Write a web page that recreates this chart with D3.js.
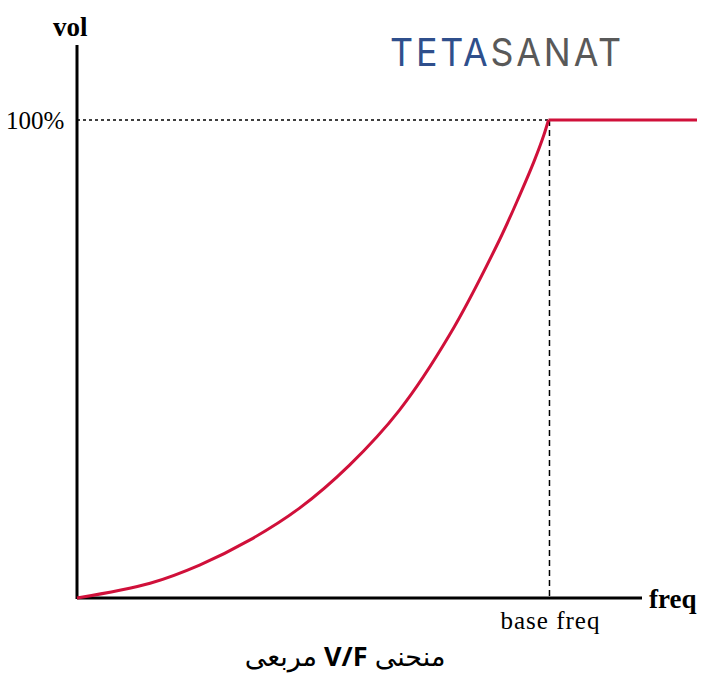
<!DOCTYPE html>
<html><head><meta charset="utf-8">
<script src="https://cdn.jsdelivr.net/npm/d3@7"></script>
<style>body{margin:0;background:#fff}</style></head>
<body><svg id="c" width="713" height="691"></svg>
<script>
const freq = [0, 15.5, 26, 36.6, 47.2, 57.8, 68.4, 79, 89.6, 94, 97, 99, 100];
const volt = [0, 3.1, 6.9, 12.1, 18.8, 27.8, 39.3, 55.0, 74.9, 84.5, 91.5, 96.8, 100];
const flatFreq = [100, 131.5];
const flatVolt = [100, 100];
const baseFreq = 100;
const yTickLabels = ["100%"];
const svg = d3.select("#c");
const x = d3.scaleLinear().domain([0, 131.5]).range([77, 697]);
const y = d3.scaleLinear().domain([0, 100]).range([598, 120]);
const serif = "'Liberation Serif','DejaVu Serif',serif";
svg.append("line").attr("x1",x(0)).attr("x2",642).attr("y1",y(0)).attr("y2",y(0)).attr("stroke","#000").attr("stroke-width",3);
svg.append("line").attr("x1",x(0)).attr("x2",x(0)).attr("y1",y(0)+1).attr("y2",45).attr("stroke","#000").attr("stroke-width",3);
svg.append("line").attr("x1",x(0)).attr("x2",x(baseFreq)).attr("y1",y(100)).attr("y2",y(100)).attr("stroke","#000").attr("stroke-width",1.5).attr("stroke-dasharray","3,3");
svg.append("line").attr("x1",x(baseFreq)+1).attr("x2",x(baseFreq)+1).attr("y1",y(100)).attr("y2",y(0)).attr("stroke","#000").attr("stroke-width",1.5).attr("stroke-dasharray","6,4");
const line = d3.line().x(d=>x(d[0])).y(d=>y(d[1]));
svg.append("path").datum(freq.map((f,i)=>[f,volt[i]]))
 .attr("d", line.curve(d3.curveCatmullRom.alpha(0.5)))
 .attr("fill","none").attr("stroke","#d0103a").attr("stroke-width",3);
svg.append("path").datum(flatFreq.map((f,i)=>[f,flatVolt[i]]))
 .attr("d", d3.line().x(d=>x(d[0])).y(d=>y(d[1])))
 .attr("fill","none").attr("stroke","#d0103a").attr("stroke-width",3);
svg.append("text").attr("x",6).attr("y",y(100)+9).attr("font-family",serif).attr("font-size",25).text(yTickLabels[0]);
svg.append("text").attr("x",53).attr("y",36).attr("font-family",serif).attr("font-size",27).attr("font-weight","bold").text("vol");
svg.append("text").attr("x",649).attr("y",608).attr("font-family",serif).attr("font-size",27).attr("font-weight","bold").text("freq");
svg.append("text").attr("x",x(baseFreq)+2).attr("y",629).attr("text-anchor","middle").attr("font-family",serif).attr("font-size",25).attr("letter-spacing",1).text("base freq");
svg.append("text").attr("x",345).attr("y",666).attr("text-anchor","middle").attr("font-family","'Noto Sans','DejaVu Sans',sans-serif").attr("font-size",27).attr("direction","rtl")
 .html('منحنی <tspan font-weight="bold">V/F</tspan> مربعی');
const logo = svg.append("text").attr("x",390).attr("y",66).attr("font-family","Inter,'Noto Sans',sans-serif").attr("font-size",38).attr("font-weight",400).attr("letter-spacing",3).attr("textLength",234).attr("lengthAdjust","spacingAndGlyphs");
logo.append("tspan").attr("fill","#2f4f8c").text("TETA");
logo.append("tspan").attr("fill","#595959").text("SANAT");
</script></body></html>
